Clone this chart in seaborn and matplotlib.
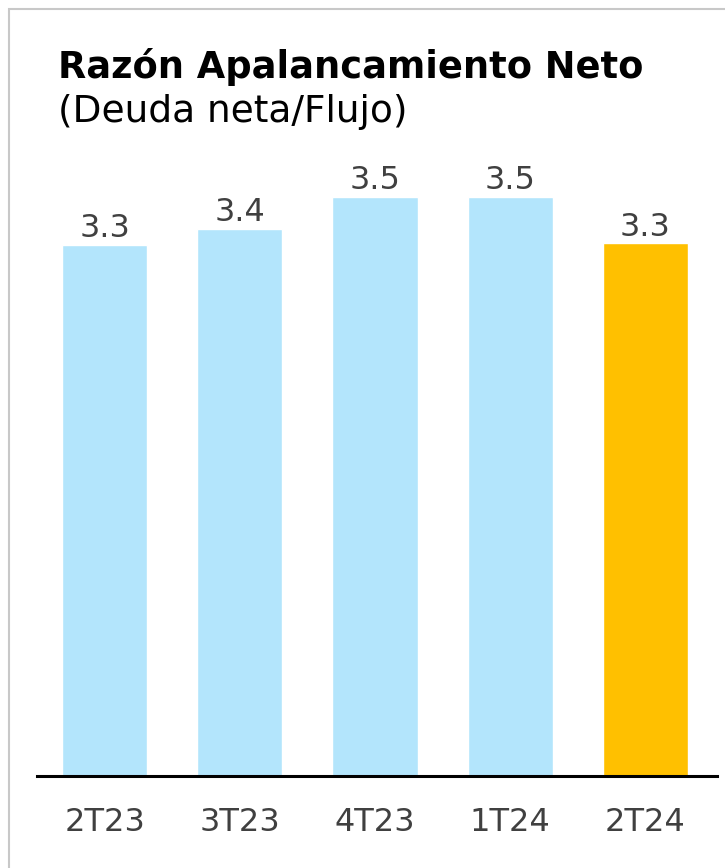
import pandas as pd
import matplotlib.pyplot as plt
import seaborn as sns
from matplotlib.patches import Rectangle

# data
periods = ['2T23', '3T23', '4T23', '1T24', '2T24']
ratios = [3.30, 3.40, 3.60, 3.60, 3.31]
ratio_labels = ['3.3', '3.4', '3.5', '3.5', '3.3']
bar_colors = ['#B3E5FC', '#B3E5FC', '#B3E5FC', '#B3E5FC', '#FFC000']


def main():
    sns.set_style('white')
    plt.rcParams['font.family'] = ['DejaVu Sans']

    df = pd.DataFrame({'periodo': periods, 'razon': ratios})

    fig = plt.figure(figsize=(7.25, 8.68), dpi=100)
    ax = fig.add_axes([37 / 725, 92 / 868, 680 / 725, 626 / 868])

    sns.barplot(data=df, x='periodo', y='razon', hue='periodo',
                palette=bar_colors, legend=False, width=0.63,
                saturation=1, ax=ax)

    ax.set_xlim(-0.5, 4.53)
    ax.set_ylim(0, 3.89)

    # value labels over each bar
    for container, lab in zip(ax.containers, ratio_labels):
        ax.bar_label(container, labels=[lab], padding=0.5,
                     fontsize=23, color='#404040')

    for side in ['top', 'right', 'left']:
        ax.spines[side].set_visible(False)
    ax.spines['bottom'].set_color('black')
    ax.spines['bottom'].set_linewidth(2.2)

    ax.set_yticks([])
    ax.set_xlabel('')
    ax.set_ylabel('')
    ax.tick_params(axis='x', length=0, pad=22, labelsize=23, colors='#404040')

    fig.text(58 / 725, 1 - 78 / 868, 'Razón Apalancamiento Neto',
             fontsize=26.5, fontweight='bold', color='black', va='baseline')
    fig.text(58 / 725, 1 - 122 / 868, '(Deuda neta/Flujo)',
             fontsize=27, color='black', va='baseline')

    # light frame (top and left edges visible)
    fig.patches.append(Rectangle((9 / 725, -0.05), 1.2, 1 - 9 / 868 + 0.05,
                                 transform=fig.transFigure, fill=False,
                                 edgecolor='#C8C8C8', linewidth=1.5))

    fig.savefig('out.png', dpi=100)
    plt.close(fig)


if __name__ == "__main__":
    main()
